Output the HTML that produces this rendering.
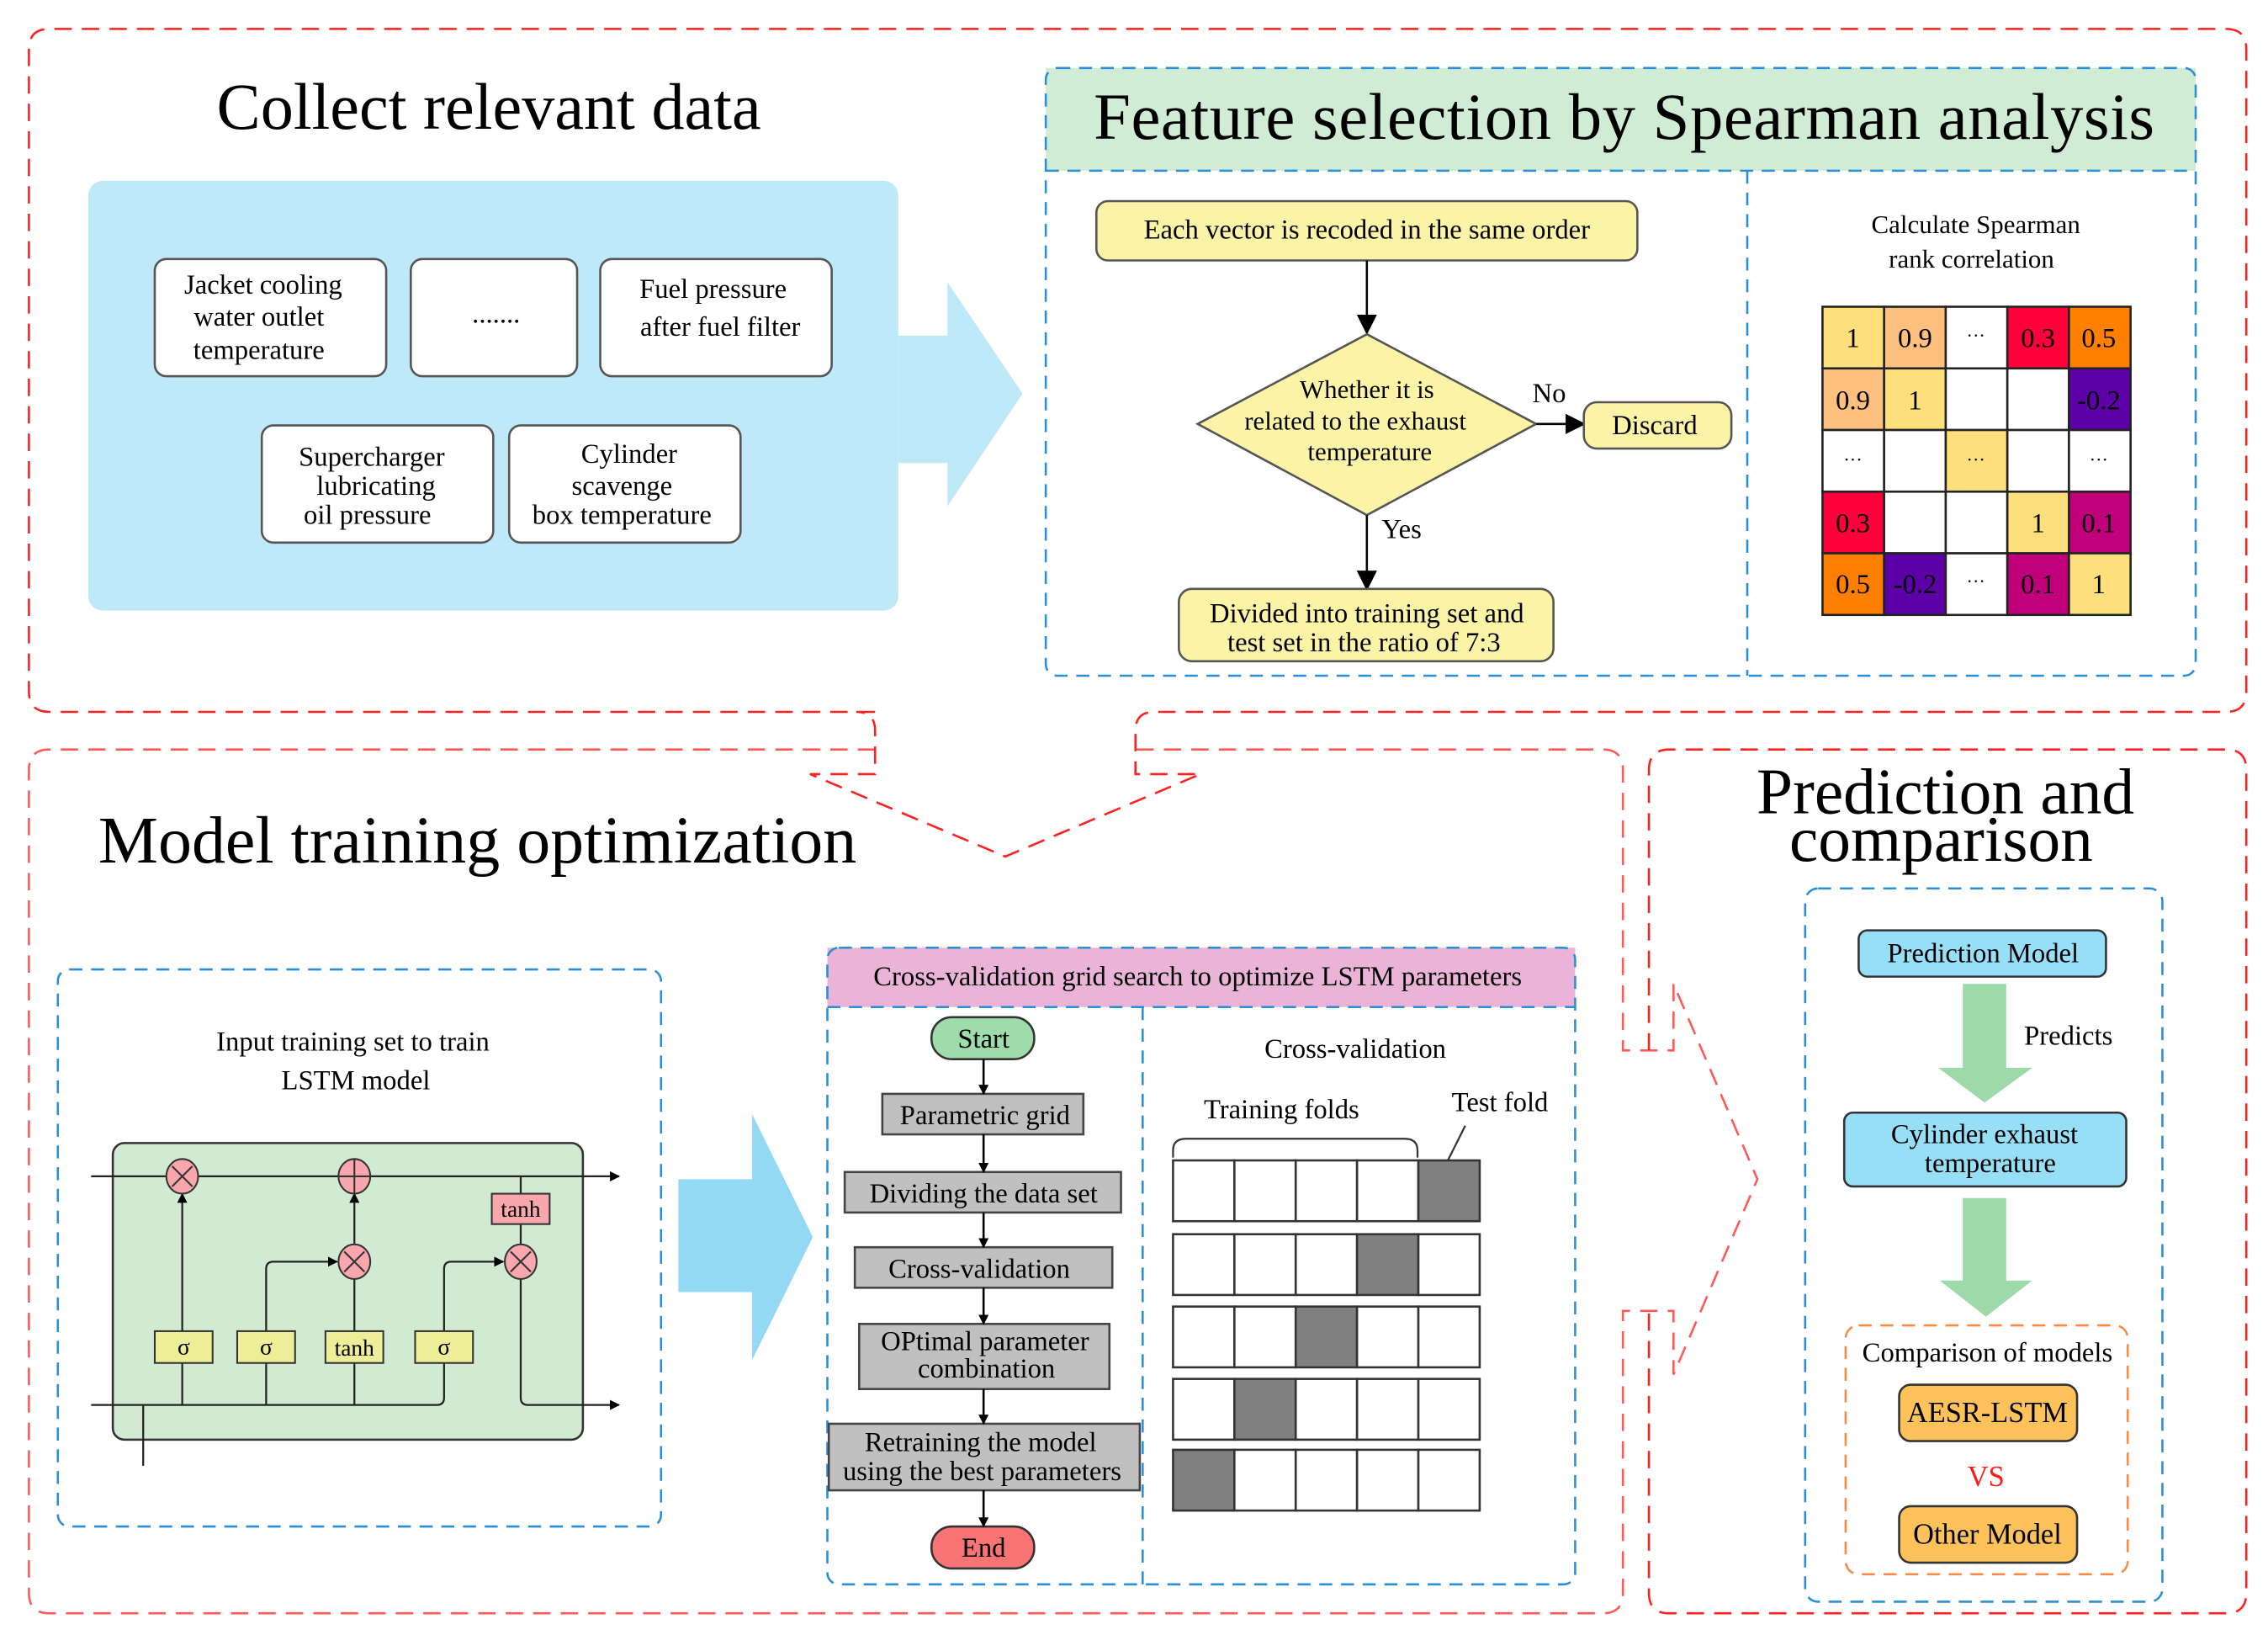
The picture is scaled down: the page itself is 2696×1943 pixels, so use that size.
<!DOCTYPE html>
<html><head><meta charset="utf-8"><style>
html,body{margin:0;padding:0;background:#fff;}
svg{display:block;}
text{font-family:"Liberation Serif",serif;fill:#000;}
</style></head><body>
<svg width="2696" height="1943" viewBox="0 0 1568 1130" preserveAspectRatio="none" xmlns="http://www.w3.org/2000/svg">
<defs>
<marker id="ar" viewBox="0 0 10 10" refX="9" refY="5" markerWidth="7" markerHeight="7" orient="auto-start-reverse" markerUnits="userSpaceOnUse"><path d="M0,0L10,5L0,10z" fill="#000"/></marker>
<marker id="ar2" viewBox="0 0 10 10" refX="9" refY="5" markerWidth="14" markerHeight="14" orient="auto" markerUnits="userSpaceOnUse"><path d="M0,0L10,5L0,10z" fill="#000"/></marker>
</defs>
<rect width="1568" height="1130" fill="#fff"/>

<g fill="none" stroke="#ff2020" stroke-width="1.5" stroke-dasharray="12,7">
<path d="M605,492 H34 Q20,492 20,478 V34 Q20,20 34,20 H1539 Q1553,20 1553,34 V478 Q1553,492 1539,492 H798 Q785,492 785,505 V535 H830 L695,592 L560,535 H605 V505 Q605,492 592,492"/>
<path d="M605,518 H34 Q20,518 20,532 V1101 Q20,1115 34,1115 H1108 Q1122,1115 1122,1101 V906 H1157 V950 L1215,815 L1157,680 V726 H1122 V532 Q1122,518 1108,518 H785" stroke-opacity="0.75"/>
<path d="M1140,726 V532 Q1140,518 1154,518 H1539 Q1553,518 1553,532 V1101 Q1553,1115 1539,1115 H1154 Q1140,1115 1140,1101 V906"/>
</g>

<text x="338" y="89" font-size="45.5" text-anchor="middle">Collect relevant data</text>
<rect x="61" y="125" width="560" height="297" rx="10" fill="#bfe9f8"/>
<path d="M621,232 H655 V195 L707,272 L655,350 V320 H621z" fill="#bfe9f8"/>
<g fill="#fff" stroke="#555" stroke-width="1.5">
<rect x="107" y="179" width="160" height="81" rx="8"/>
<rect x="284" y="179" width="115" height="81" rx="8"/>
<rect x="415" y="179" width="160" height="81" rx="8"/>
<rect x="181" y="294" width="160" height="81" rx="8"/>
<rect x="352" y="294" width="160" height="81" rx="8"/>
</g>
<g font-size="19" text-anchor="middle">
<text x="182" y="203">Jacket cooling</text><text x="179" y="225">water outlet</text><text x="179" y="248">temperature</text>
<text x="343" y="223">.......</text>
<text x="493" y="206">Fuel pressure</text><text x="498" y="232">after fuel filter</text>
<text x="257" y="322">Supercharger</text><text x="260" y="342">lubricating</text><text x="254" y="362">oil pressure</text>
<text x="435" y="320">Cylinder</text><text x="430" y="342">scavenge</text><text x="430" y="362">box temperature</text>
</g>

<rect x="723" y="47" width="795" height="71" fill="#d1ecd5"/>
<g fill="none" stroke="#2a8fd6" stroke-width="1.5" stroke-dasharray="9,6">
<rect x="723" y="47" width="795" height="420" rx="8"/>
<line x1="723" y1="118" x2="1518" y2="118"/>
<line x1="1208" y1="118" x2="1208" y2="467"/>
</g>
<text x="1123" y="96" font-size="45.8" text-anchor="middle" letter-spacing="0.3">Feature selection by Spearman analysis</text>
<rect x="758" y="139" width="374" height="41" rx="8" fill="#fbf3a6" stroke="#555" stroke-width="1.5"/>
<text x="945" y="165" font-size="19" text-anchor="middle">Each vector is recoded in the same order</text>
<line x1="945" y1="180" x2="945" y2="230" stroke="#000" stroke-width="1.5" marker-end="url(#ar2)"/>
<path d="M945,231 L1062,293 L945,356 L828,293z" fill="#fbf3a6" stroke="#555" stroke-width="1.5"/>
<g font-size="18" text-anchor="middle">
<text x="945" y="275">Whether it is</text><text x="937" y="297">related to the exhaust</text><text x="947" y="318">temperature</text>
</g>
<line x1="1062" y1="293" x2="1095" y2="293" stroke="#000" stroke-width="1.5" marker-end="url(#ar2)"/>
<text x="1071" y="278" font-size="19" text-anchor="middle">No</text>
<rect x="1095" y="278" width="102" height="32" rx="9" fill="#fbf3a6" stroke="#555" stroke-width="1.5"/>
<text x="1144" y="300" font-size="19" text-anchor="middle">Discard</text>
<line x1="945" y1="356" x2="945" y2="407" stroke="#000" stroke-width="1.5" marker-end="url(#ar2)"/>
<text x="969" y="372" font-size="19" text-anchor="middle">Yes</text>
<rect x="815" y="407" width="259" height="50" rx="9" fill="#fbf3a6" stroke="#555" stroke-width="1.5"/>
<text x="945" y="430" font-size="19" text-anchor="middle">Divided into training set and</text>
<text x="943" y="450" font-size="19" text-anchor="middle">test set in the ratio of 7:3</text>
<text x="1366" y="161" font-size="18" text-anchor="middle">Calculate Spearman</text>
<text x="1363" y="185" font-size="18" text-anchor="middle">rank correlation</text>
<g stroke="#222" stroke-width="1.5">
<rect x="1260" y="212" width="42.6" height="42.6" fill="#fde07b"/><rect x="1302.6" y="212" width="42.6" height="42.6" fill="#fdc07e"/><rect x="1345.2" y="212" width="42.6" height="42.6" fill="#fff"/><rect x="1387.8" y="212" width="42.6" height="42.6" fill="#ff003a"/><rect x="1430.4" y="212" width="42.6" height="42.6" fill="#ff8000"/>
<rect x="1260" y="254.6" width="42.6" height="42.6" fill="#fdc07e"/><rect x="1302.6" y="254.6" width="42.6" height="42.6" fill="#fde07b"/><rect x="1345.2" y="254.6" width="42.6" height="42.6" fill="#fff"/><rect x="1387.8" y="254.6" width="42.6" height="42.6" fill="#fff"/><rect x="1430.4" y="254.6" width="42.6" height="42.6" fill="#5c00a8"/>
<rect x="1260" y="297.2" width="42.6" height="42.6" fill="#fff"/><rect x="1302.6" y="297.2" width="42.6" height="42.6" fill="#fff"/><rect x="1345.2" y="297.2" width="42.6" height="42.6" fill="#fde07b"/><rect x="1387.8" y="297.2" width="42.6" height="42.6" fill="#fff"/><rect x="1430.4" y="297.2" width="42.6" height="42.6" fill="#fff"/>
<rect x="1260" y="339.8" width="42.6" height="42.6" fill="#ff003a"/><rect x="1302.6" y="339.8" width="42.6" height="42.6" fill="#fff"/><rect x="1345.2" y="339.8" width="42.6" height="42.6" fill="#fff"/><rect x="1387.8" y="339.8" width="42.6" height="42.6" fill="#fde07b"/><rect x="1430.4" y="339.8" width="42.6" height="42.6" fill="#c0007a"/>
<rect x="1260" y="382.4" width="42.6" height="42.6" fill="#ff8000"/><rect x="1302.6" y="382.4" width="42.6" height="42.6" fill="#5c00a8"/><rect x="1345.2" y="382.4" width="42.6" height="42.6" fill="#fff"/><rect x="1387.8" y="382.4" width="42.6" height="42.6" fill="#c0007a"/><rect x="1430.4" y="382.4" width="42.6" height="42.6" fill="#fde07b"/>
</g>
<g font-size="19" text-anchor="middle">
<text x="1281" y="240">1</text><text x="1324" y="240">0.9</text><text x="1366" y="236" font-size="13">···</text><text x="1409" y="240">0.3</text><text x="1451" y="240">0.5</text>
<text x="1281" y="283">0.9</text><text x="1324" y="283">1</text><text x="1451" y="283">-0.2</text>
<text x="1281" y="322" font-size="13">···</text><text x="1366" y="322" font-size="13">···</text><text x="1451" y="322" font-size="13">···</text>
<text x="1281" y="368">0.3</text><text x="1409" y="368">1</text><text x="1451" y="368">0.1</text>
<text x="1281" y="410">0.5</text><text x="1324" y="410">-0.2</text><text x="1366" y="406" font-size="13">···</text><text x="1409" y="410">0.1</text><text x="1451" y="410">1</text>
</g>

<text x="68" y="596" font-size="46.5">Model training optimization</text>
<rect x="40" y="670" width="417" height="385" rx="8" fill="none" stroke="#2a8fd6" stroke-width="1.5" stroke-dasharray="9,6"/>
<text x="244" y="726" font-size="19" text-anchor="middle">Input training set to train</text>
<text x="246" y="753" font-size="19" text-anchor="middle">LSTM model</text>
<rect x="78" y="790" width="325" height="205" rx="8" fill="#d1ebd3" stroke="#333" stroke-width="1.5"/>
<g stroke="#222" stroke-width="1.3" fill="none">
<line x1="63" y1="813" x2="428" y2="813" marker-end="url(#ar)"/>
<line x1="126" y1="920" x2="126" y2="825" marker-end="url(#ar)"/>
<path d="M184,920 V877 Q184,872 189,872 H233" marker-end="url(#ar)"/>
<line x1="245" y1="920" x2="245" y2="884"/>
<line x1="245" y1="861" x2="245" y2="825" marker-end="url(#ar)"/>
<path d="M307,920 V877 Q307,872 312,872 H348" marker-end="url(#ar)"/>
<line x1="360" y1="813" x2="360" y2="861"/>
<path d="M360,884 V966 Q360,971 365,971 H428" marker-end="url(#ar)"/>
<path d="M63,971 H302 Q307,971 307,966 V942"/>
<line x1="126" y1="942" x2="126" y2="971"/><line x1="184" y1="942" x2="184" y2="971"/><line x1="245" y1="942" x2="245" y2="971"/>
<line x1="99" y1="971" x2="99" y2="1013"/>
</g>
<g fill="#f9a7ad" stroke="#333" stroke-width="1.2">
<ellipse cx="126" cy="813" rx="11" ry="12"/><ellipse cx="245" cy="813" rx="11" ry="12"/><ellipse cx="245" cy="872" rx="11" ry="12"/><ellipse cx="360" cy="872" rx="11" ry="12"/>
<rect x="340" y="825" width="40" height="21"/>
</g>
<g stroke="#333" stroke-width="1.2">
<path d="M119,806 L133,820 M133,806 L119,820"/><path d="M234,813 H256 M245,801 V825"/><path d="M238,865 L252,879 M252,865 L238,879"/><path d="M353,865 L367,879 M367,865 L353,879"/>
</g>
<g fill="#eeee98" stroke="#333" stroke-width="1.2">
<rect x="107" y="920" width="40" height="22"/><rect x="164" y="920" width="40" height="22"/><rect x="225" y="920" width="40" height="22"/><rect x="287" y="920" width="40" height="22"/>
</g>
<g font-size="16" text-anchor="middle">
<text x="127" y="936">σ</text><text x="184" y="936">σ</text><text x="245" y="937">tanh</text><text x="307" y="936">σ</text><text x="360" y="841">tanh</text>
</g>
<path d="M469,815 H520 V770 L562,855 L520,940 V893 H469z" fill="#93d9f4"/>

<rect x="572" y="655" width="517" height="41" fill="#eab3d8"/>
<g fill="none" stroke="#2a8fd6" stroke-width="1.5" stroke-dasharray="9,6">
<rect x="572" y="655" width="517" height="440" rx="8"/>
<line x1="572" y1="696" x2="1089" y2="696"/>
<line x1="790" y1="696" x2="790" y2="1095"/>
</g>
<text x="828" y="681" font-size="19" text-anchor="middle">Cross-validation grid search to optimize LSTM parameters</text>
<rect x="644" y="703" width="71" height="29" rx="14" fill="#9fdcab" stroke="#333" stroke-width="1.5"/>
<g fill="#c0c0c0" stroke="#444" stroke-width="1.5">
<rect x="610" y="756" width="139" height="28"/><rect x="584" y="810" width="191" height="28"/><rect x="591" y="862" width="178" height="28"/><rect x="594" y="915" width="173" height="45"/><rect x="573" y="984" width="215" height="46"/>
</g>
<rect x="644" y="1055" width="71" height="29" rx="14" fill="#f87474" stroke="#333" stroke-width="1.5"/>
<g stroke="#000" stroke-width="1.5">
<line x1="680" y1="732" x2="680" y2="756" marker-end="url(#ar)"/><line x1="680" y1="784" x2="680" y2="810" marker-end="url(#ar)"/><line x1="680" y1="838" x2="680" y2="862" marker-end="url(#ar)"/><line x1="680" y1="890" x2="680" y2="915" marker-end="url(#ar)"/><line x1="680" y1="960" x2="680" y2="984" marker-end="url(#ar)"/><line x1="680" y1="1030" x2="680" y2="1055" marker-end="url(#ar)"/>
</g>
<g font-size="19" text-anchor="middle">
<text x="680" y="724">Start</text><text x="681" y="777">Parametric grid</text><text x="680" y="831">Dividing the data set</text><text x="677" y="883">Cross-validation</text>
<text x="681" y="933">OPtimal parameter</text><text x="682" y="952">combination</text>
<text x="678" y="1003">Retraining the model</text><text x="679" y="1023">using the best parameters</text>
<text x="680" y="1076">End</text>
<text x="937" y="731">Cross-validation</text><text x="886" y="773">Training folds</text><text x="1037" y="768">Test fold</text>
</g>
<path d="M811,800 V795 Q811,787 820,787 H971 Q980,787 980,795 V800" fill="none" stroke="#333" stroke-width="1.3"/>
<line x1="1013" y1="778" x2="1001" y2="802" stroke="#333" stroke-width="1.3"/>
<g stroke="#333" stroke-width="1.5" fill="#fff">
<rect x="811" y="802" width="42.4" height="42"/><rect x="853.4" y="802" width="42.4" height="42"/><rect x="895.8" y="802" width="42.4" height="42"/><rect x="938.2" y="802" width="42.4" height="42"/><rect x="980.6" y="802" width="42.4" height="42" fill="#808080"/>
<rect x="811" y="853" width="42.4" height="42"/><rect x="853.4" y="853" width="42.4" height="42"/><rect x="895.8" y="853" width="42.4" height="42"/><rect x="938.2" y="853" width="42.4" height="42" fill="#808080"/><rect x="980.6" y="853" width="42.4" height="42"/>
<rect x="811" y="903" width="42.4" height="42"/><rect x="853.4" y="903" width="42.4" height="42"/><rect x="895.8" y="903" width="42.4" height="42" fill="#808080"/><rect x="938.2" y="903" width="42.4" height="42"/><rect x="980.6" y="903" width="42.4" height="42"/>
<rect x="811" y="953" width="42.4" height="42"/><rect x="853.4" y="953" width="42.4" height="42" fill="#808080"/><rect x="895.8" y="953" width="42.4" height="42"/><rect x="938.2" y="953" width="42.4" height="42"/><rect x="980.6" y="953" width="42.4" height="42"/>
<rect x="811" y="1002" width="42.4" height="42" fill="#808080"/><rect x="853.4" y="1002" width="42.4" height="42"/><rect x="895.8" y="1002" width="42.4" height="42"/><rect x="938.2" y="1002" width="42.4" height="42"/><rect x="980.6" y="1002" width="42.4" height="42"/>
</g>

<text x="1345" y="562" font-size="45" text-anchor="middle">Prediction and</text>
<text x="1342" y="595" font-size="45" text-anchor="middle">comparison</text>
<rect x="1248" y="614" width="247" height="493" rx="9" fill="none" stroke="#2a8fd6" stroke-width="1.5" stroke-dasharray="9,6"/>
<rect x="1285" y="643" width="171" height="32" rx="6" fill="#97dff7" stroke="#333" stroke-width="1.5"/>
<text x="1371" y="665" font-size="19" text-anchor="middle">Prediction Model</text>
<path d="M1357,680 H1387 V738 H1405 L1372,762 L1340,738 H1357z" fill="#9dd9a9"/>
<text x="1430" y="722" font-size="19" text-anchor="middle">Predicts</text>
<rect x="1275" y="769" width="195" height="51" rx="6" fill="#97dff7" stroke="#333" stroke-width="1.5"/>
<text x="1372" y="790" font-size="19" text-anchor="middle">Cylinder exhaust</text>
<text x="1376" y="810" font-size="19" text-anchor="middle">temperature</text>
<path d="M1357,828 H1387 V885 H1405 L1373,910 L1341,885 H1357z" fill="#9dd9a9"/>
<rect x="1276" y="916" width="195" height="172" rx="9" fill="none" stroke="#f78a45" stroke-width="1.5" stroke-dasharray="9,6"/>
<text x="1374" y="941" font-size="19" text-anchor="middle">Comparison of models</text>
<rect x="1313" y="957" width="123" height="39" rx="8" fill="#fdc35a" stroke="#333" stroke-width="1.5"/>
<text x="1374" y="983" font-size="20" text-anchor="middle">AESR-LSTM</text>
<text x="1373" y="1027" font-size="20" text-anchor="middle" style="fill:#ff1a1a">VS</text>
<rect x="1313" y="1041" width="123" height="39" rx="8" fill="#fdc35a" stroke="#333" stroke-width="1.5"/>
<text x="1374" y="1067" font-size="20" text-anchor="middle">Other Model</text>
</svg>
</body></html>
